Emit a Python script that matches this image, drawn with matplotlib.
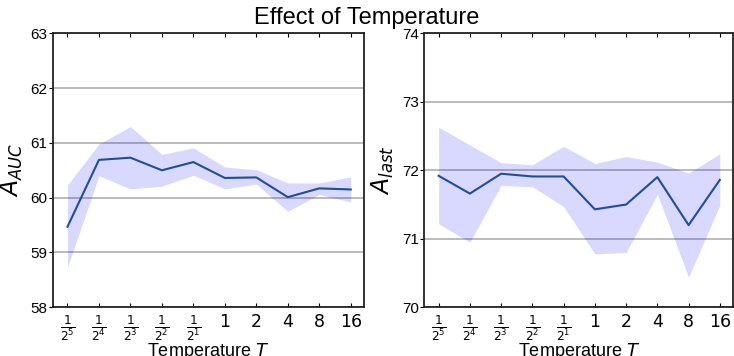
import numpy as np
import matplotlib
matplotlib.use("Agg")
import matplotlib.pyplot as plt

# temperature settings on the x axis
temps = [r"$\frac{1}{2^5}$", r"$\frac{1}{2^4}$", r"$\frac{1}{2^3}$", r"$\frac{1}{2^2}$",
         r"$\frac{1}{2^1}$", "1", "2", "4", "8", "16"]

# A_AUC: mean and band
auc_mean = [59.47, 60.69, 60.73, 60.50, 60.65, 60.36, 60.37, 60.01, 60.17, 60.15]
auc_hi = [60.23, 60.98, 61.30, 60.79, 60.91, 60.56, 60.51, 60.27, 60.27, 60.38]
auc_lo = [58.73, 60.40, 60.16, 60.21, 60.41, 60.16, 60.25, 59.75, 60.06, 59.92]

# A_last: mean and band
last_mean = [71.92, 71.66, 71.95, 71.91, 71.91, 71.43, 71.50, 71.90, 71.20, 71.86]
last_hi = [72.63, 72.37, 72.11, 72.08, 72.35, 72.10, 72.20, 72.12, 71.96, 72.24]
last_lo = [71.22, 70.95, 71.78, 71.76, 71.47, 70.78, 70.80, 71.65, 70.44, 71.49]

plt.rcParams['font.family'] = ['Liberation Sans', 'DejaVu Sans']

fig = plt.figure(figsize=(7.34, 3.56), dpi=100)
ax1 = fig.add_axes([0.0722, 0.1368, 0.4237, 0.7697])
ax2 = fig.add_axes([0.578, 0.1368, 0.4206, 0.7697])

line_col = '#1f4e96'
x = np.arange(len(temps))

def draw(ax, mean, lo, hi, ylim, ylabel):
    ax.fill_between(x, lo, hi, color='blue', alpha=0.15, linewidth=0)
    ax.plot(x, mean, color=line_col, linewidth=1.5)
    ax.set_ylim(*ylim)
    ax.set_xlim(-0.46, 9.42)
    ax.set_yticks(np.arange(ylim[0], ylim[1] + 1))
    ax.grid(axis='y', color='#b5b5b5', linewidth=1.3)
    ax.set_axisbelow(True)
    ax.set_xticks(x)
    ax.set_xticklabels(temps, fontsize=12.5, family='DejaVu Sans')
    ax.tick_params(axis='x', direction='in', top=True, length=3, pad=4)
    ax.tick_params(axis='y', direction='out', length=3, labelsize=11, pad=1)
    ax.set_xlabel(r"Temperature $T$", fontsize=13, labelpad=-1)
    ax.set_ylabel(ylabel, fontsize=17, labelpad=4)
    for s in ax.spines.values():
        s.set_color('#222222')
        s.set_linewidth(1.3)

draw(ax1, auc_mean, auc_lo, auc_hi, (58, 63), r"$A_{AUC}$")
draw(ax2, last_mean, last_lo, last_hi, (70, 74), r"$A_{last}$")

fig.suptitle("Effect of Temperature", fontsize=17, y=0.98)

fig.savefig("out.png", dpi=100)
